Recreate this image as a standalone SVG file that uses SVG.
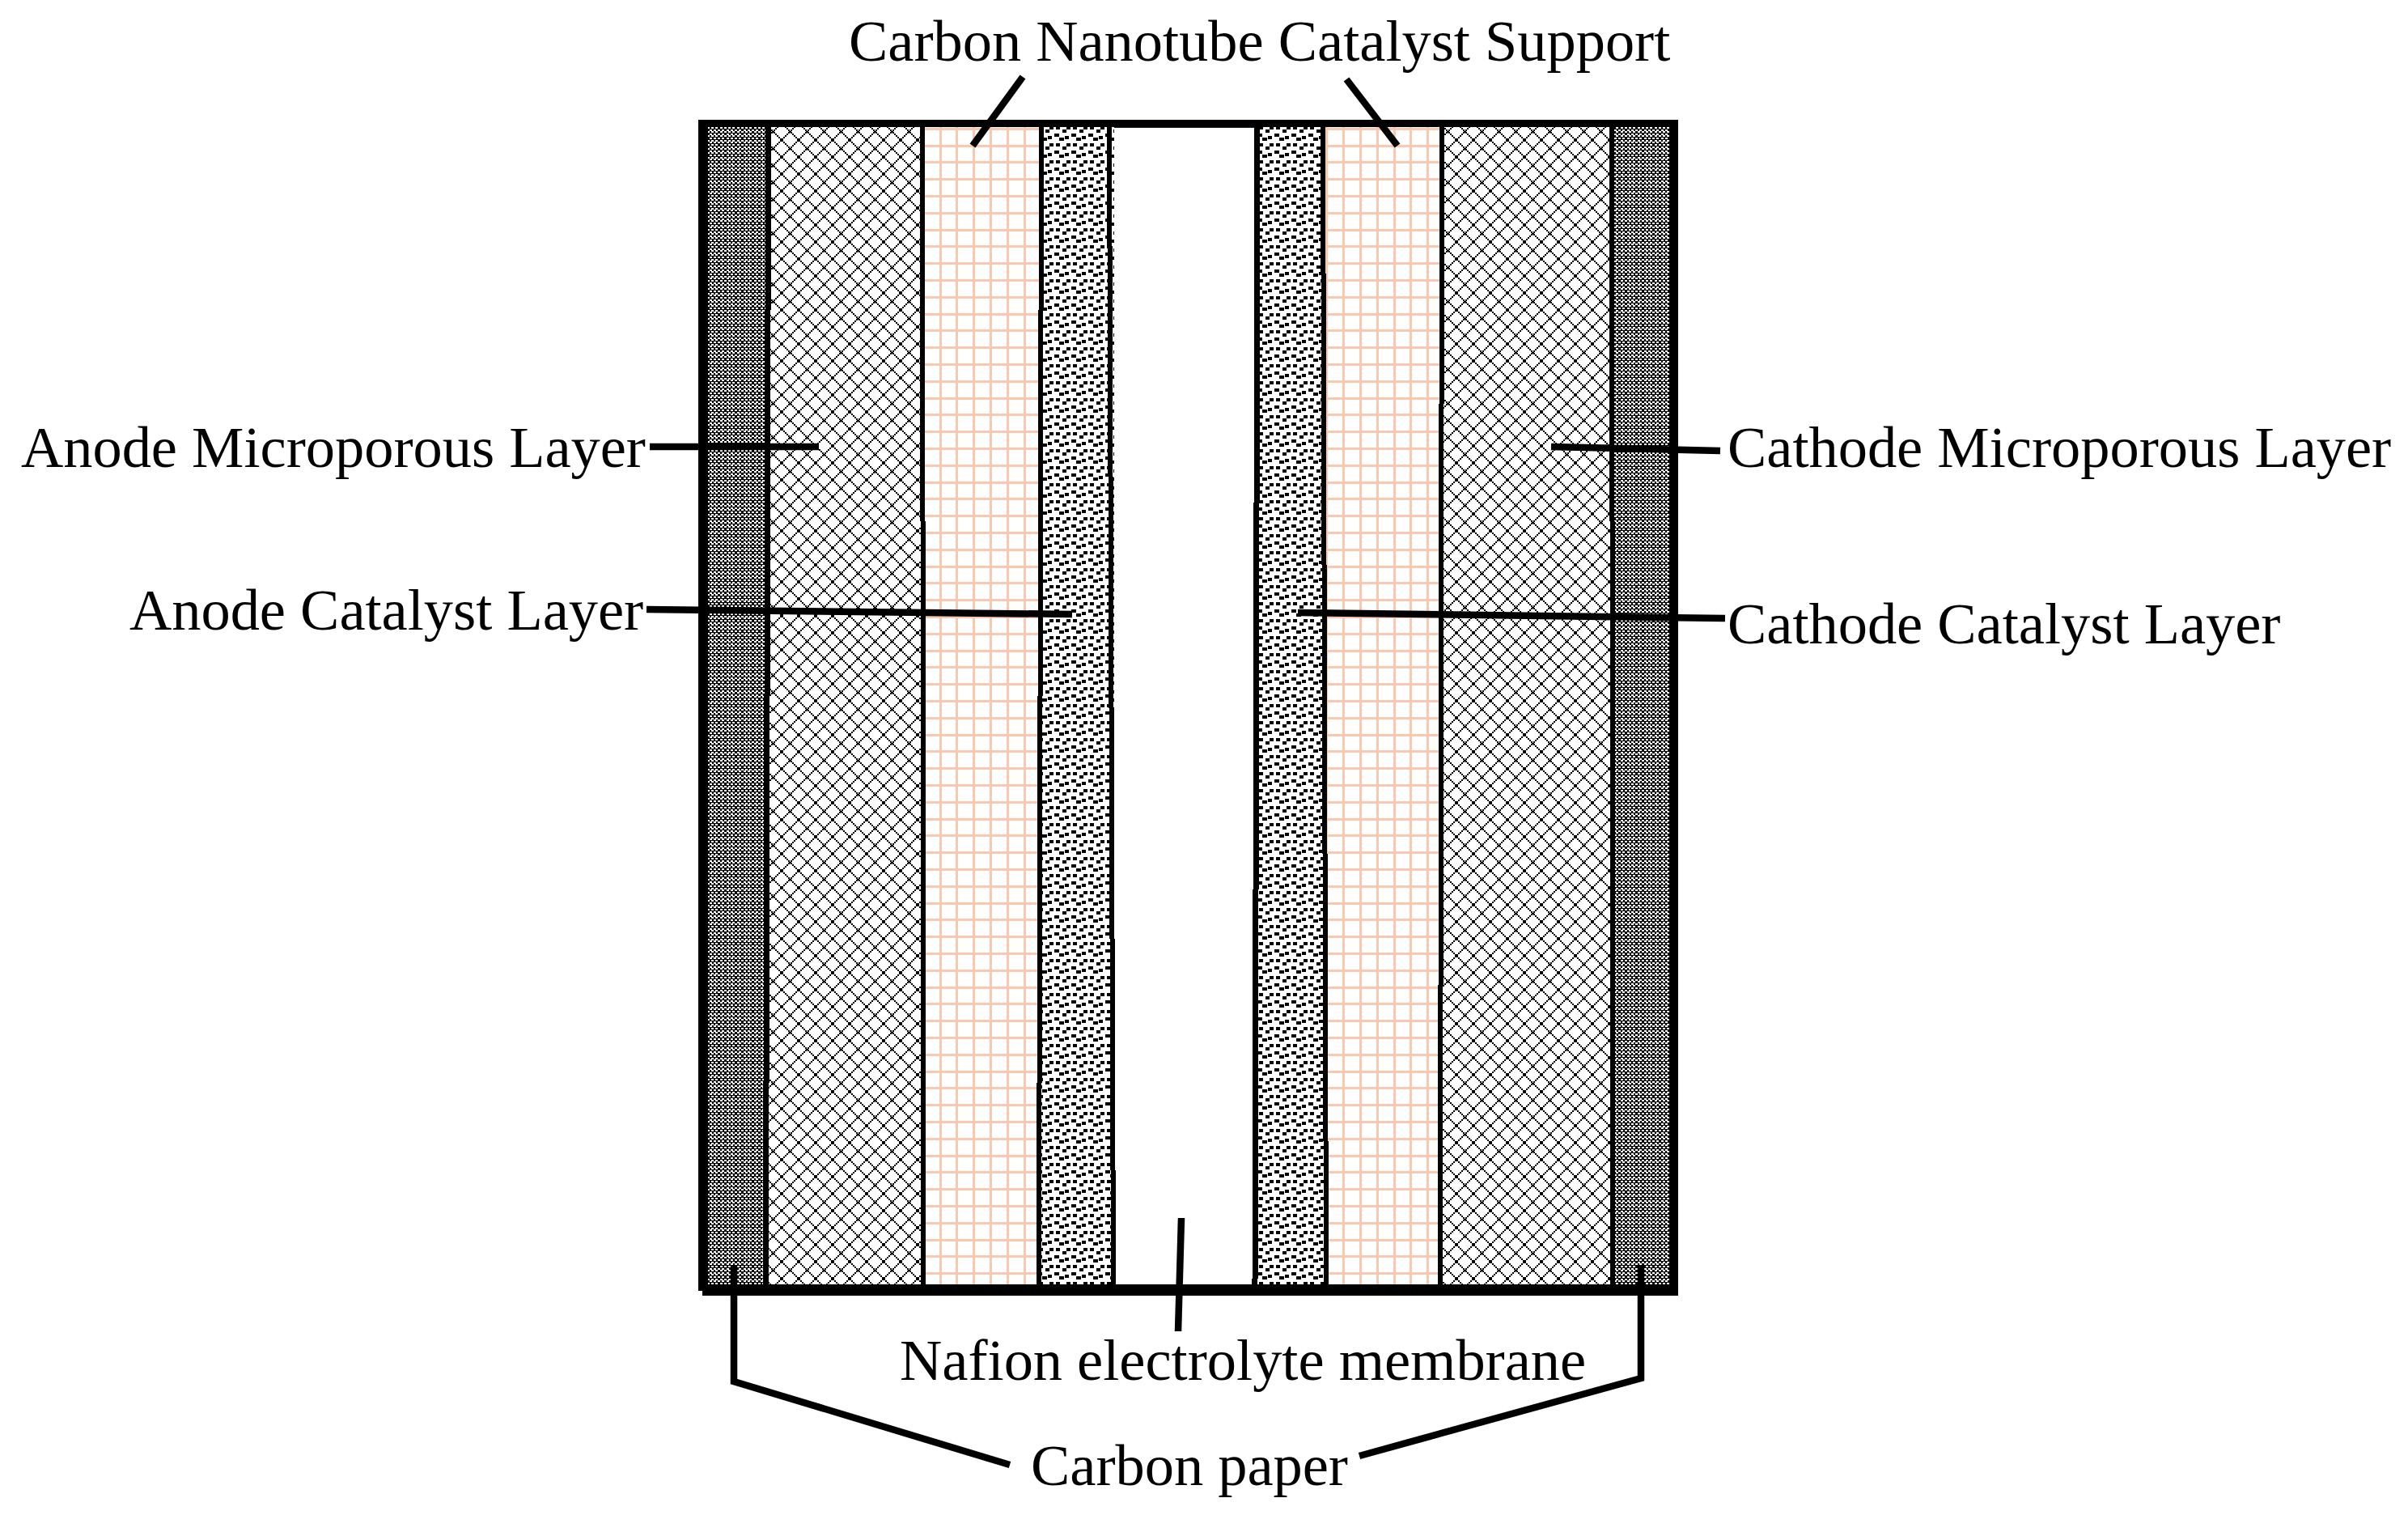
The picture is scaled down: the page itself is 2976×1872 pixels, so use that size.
<svg xmlns="http://www.w3.org/2000/svg" width="2976" height="1872" viewBox="0 0 2976 1872">
<style>
text{font-family:"Liberation Serif","Times New Roman",serif;font-size:72.4px;fill:#000}
.wall{fill:#000}
.div{stroke:#000;fill:none}
.lead{stroke:#000;stroke-width:8.5;fill:none;stroke-linejoin:miter}
.grid{stroke:#FAC8AF;stroke-dasharray:3 17.8;shape-rendering:crispEdges}
rect,.div,.px{shape-rendering:crispEdges}
</style>
<defs>
<path id="diam" class="px" fill="#000" d="M0 0h2v2h-2zM2 2h2v2h-2zM4 4h2v2h-2zM6 6h2v2h-2zM8 8h2v2h-2zM10 10h2v2h-2zM11 11h2v2h-2zM13 13h2v2h-2zM15 15h2v2h-2zM17 17h2v2h-2zM19 19h2v2h-2zM19 0h2v2h-2zM17 2h2v2h-2zM15 4h2v2h-2zM13 6h2v2h-2zM11 8h2v2h-2zM9 10h2v2h-2zM8 11h2v2h-2zM6 13h2v2h-2zM4 15h2v2h-2zM2 17h2v2h-2zM0 19h2v2h-2z"/>
<path id="dots" class="px" fill="#000" d="M5 11h5v4h-5zM13 8h6v4h-6zM0 13h4v4h-4zM19 13h2v4h-2zM2 3h5v4h-5zM7 0h5v3h-5zM15 0h5v3h-5zM7 20h5v1h-5zM15 20h5v1h-5z"/>
<pattern id="paper" patternUnits="userSpaceOnUse" x="874" y="157" width="21" height="21">
<rect width="21" height="21" fill="#000"/>
<path fill="#fff" class="px" d="M0 0h3v2h-3zM5 0h3v2h-3zM10 0h3v2h-3zM16 0h3v2h-3zM0 5h3v2h-3zM5 5h3v2h-3zM10 5h3v2h-3zM16 5h3v2h-3zM0 10h3v2h-3zM5 10h3v2h-3zM10 10h3v2h-3zM16 10h3v2h-3zM0 16h3v2h-3zM5 16h3v2h-3zM10 16h3v2h-3zM16 16h3v2h-3zM3 3h3v2h-3zM8 3h3v2h-3zM13 3h3v2h-3zM18 3h3v2h-3zM3 8h3v2h-3zM8 8h3v2h-3zM13 8h3v2h-3zM18 8h3v2h-3zM3 13h3v2h-3zM8 13h3v2h-3zM13 13h3v2h-3zM18 13h3v2h-3zM3 18h3v2h-3zM8 18h3v2h-3zM13 18h3v2h-3zM18 18h3v2h-3z"/>
</pattern>
<pattern id="mplL" patternUnits="userSpaceOnUse" x="966" y="173" width="21" height="21">
<rect width="21" height="21" fill="#fff"/><use href="#diam"/>
</pattern>
<pattern id="mplR" patternUnits="userSpaceOnUse" x="1800" y="173" width="21" height="21">
<rect width="21" height="21" fill="#fff"/><use href="#diam"/>
</pattern>
<pattern id="catL" patternUnits="userSpaceOnUse" x="1290" y="157" width="21" height="21">
<rect width="21" height="21" fill="#fff"/><use href="#dots"/>
</pattern>
<pattern id="catR" patternUnits="userSpaceOnUse" x="1562" y="157" width="21" height="21">
<rect width="21" height="21" fill="#fff"/><use href="#dots"/>
</pattern>
</defs>
<rect width="2976" height="1872" fill="#fff"/>
<g id="anode-carbon-paper"><rect x="874" y="157" width="74" height="1430" fill="url(#paper)"/></g>
<g id="anode-microporous-layer"><rect x="948" y="157" width="192" height="1430" fill="url(#mplL)"/></g>
<g id="anode-cnt-support">
<rect x="1140" y="157" width="146" height="1430" fill="#fff"/>
<line class="grid" x1="1139.7" y1="872" x2="1286" y2="872" stroke-width="1430"/>
<line class="grid" x1="1213" y1="157.8" x2="1213" y2="1587" stroke-width="146"/>
</g>
<g id="anode-catalyst-layer"><rect x="1285" y="157" width="92" height="1430" fill="url(#catL)"/></g>
<g id="nafion-membrane"><rect x="1377" y="157" width="173" height="1430" fill="#fff"/><rect x="1377" y="157" width="173" height="1" fill="#03222c"/></g>
<g id="cathode-catalyst-layer"><rect x="1552" y="157" width="86" height="1430" fill="url(#catR)"/></g>
<g id="cathode-cnt-support">
<rect x="1637" y="157" width="146" height="1430" fill="#fff"/>
<line class="grid" x1="1638.4" y1="872" x2="1783" y2="872" stroke-width="1430"/>
<line class="grid" x1="1710" y1="157.8" x2="1710" y2="1587" stroke-width="146"/>
</g>
<g id="cathode-microporous-layer"><rect x="1781" y="157" width="212" height="1430" fill="url(#mplR)"/></g>
<g id="cathode-carbon-paper"><rect x="1993" y="157" width="72" height="1430" fill="url(#paper)"/></g>
<g id="cell-frame">
<path class="div" stroke-width="7" d="M949.5 157L946.5 1587"/>
<path class="div" stroke-width="6" d="M1140 157L1141.5 1587"/>
<path class="div" stroke-width="6" d="M1287 157L1284 1587"/>
<path class="div" stroke-width="6" d="M1371 157L1376 1587"/>
<path class="div" stroke-width="7" d="M1554 157L1551 1587"/>
<path class="div" stroke-width="6" d="M1635 157L1639 1587"/>
<path class="div" stroke-width="6" d="M1782 157L1780 1587"/>
<path class="div" stroke-width="6" d="M1992 157L1993.5 1587"/>
<rect class="wall" x="863" y="148" width="1211" height="9"/>
<rect class="wall" x="863" y="148" width="12" height="1447"/>
<rect class="wall" x="2063" y="148" width="11" height="1453"/>
<rect class="wall" x="868" y="1587" width="1205" height="14"/>
</g>
<g id="connectors">
<path class="lead" d="M803 552H1012"/>
<path class="lead" d="M799 753L1325 759"/>
<path class="lead" d="M1917 552L2126 557"/>
<path class="lead" d="M1604 757L2132 764"/>
<path class="lead" d="M1264 95L1202 180"/>
<path class="lead" d="M1664 98L1727 180"/>
<path class="lead" d="M1460 1505L1456 1645"/>
<path class="lead" d="M907 1563V1707L1248 1810"/>
<path class="lead" d="M2028 1563V1703L1680 1799"/>
</g>
<g id="labels">
<text x="1049" y="75">Carbon Nanotube Catalyst Support</text>
<text x="26" y="577">Anode Microporous Layer</text>
<text x="160" y="778">Anode Catalyst Layer</text>
<text x="2135" y="577">Cathode Microporous Layer</text>
<text x="2135" y="795">Cathode Catalyst Layer</text>
<text x="1112" y="1705">Nafion electrolyte membrane</text>
<text x="1274" y="1835">Carbon paper</text>
</g>
</svg>
